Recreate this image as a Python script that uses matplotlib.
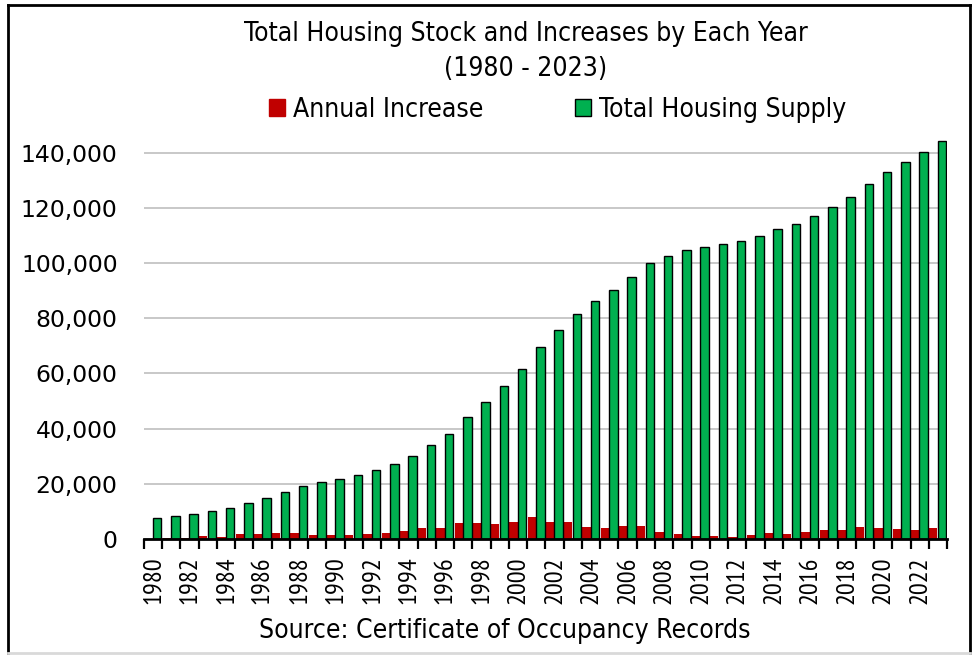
import matplotlib.pyplot as plt
from matplotlib.lines import Line2D
from matplotlib.patches import Patch
from matplotlib.font_manager import FontProperties
import numpy as np

years = list(range(1980, 2024))

# Annual increase (units added each year)
annual_increase = [
    0, 360, 360, 850, 730, 1820, 1570, 2060, 1940, 1210,
    1210, 1330, 1570, 2060, 2660, 3750, 3870, 5570, 5570, 5200,
    5930, 7750, 5930, 5930, 4240, 3750, 4600, 4720, 2300, 1820,
    970, 850, 600, 1450, 2180, 1700, 2540, 3030, 3030, 4360,
    4000, 3390, 3270, 3870,
]

# Total housing supply (cumulative stock)
total_supply = [
    7630, 8240, 8960, 10060, 11040, 12960, 14780, 16960, 19030, 20480,
    21790, 23250, 25060, 27240, 30040, 34140, 38140, 44090, 49760, 55350,
    61530, 69630, 75690, 81720, 86220, 90220, 95160, 100130, 102680, 104860,
    106050, 107140, 108230, 109940, 112370, 114410, 117310, 120580, 124100, 128830,
    133080, 136820, 140340, 144550,
]

series_names = ["Annual Increase", "Total Housing Supply"]
red = "#C00000"
green = "#00B050"

cond = FontProperties(family="DejaVu Sans", stretch="condensed", size=19)
narrow = ["PT Sans Narrow", "DejaVu Sans"]

fig = plt.figure(figsize=(9.74, 6.55), dpi=100)
ax = fig.add_axes([0.1478, 0.1776, 0.8245, 0.6095])

x = np.arange(len(years))
ax.bar(x - 0.255, annual_increase, width=0.45, color=red, zorder=3)
ax.bar(x + 0.22, total_supply, width=0.46, color=green,
       edgecolor="black", linewidth=1, zorder=3)

ax.set_xlim(-0.5, len(years) - 0.5)
ax.set_ylim(0, 145000)
ax.set_yticks(range(0, 140001, 20000))
ax.yaxis.set_major_formatter(plt.FuncFormatter(lambda v, p: f"{int(v):,}"))
ax.tick_params(axis="y", length=0, pad=19, labelsize=16.9)
for lab in ax.get_yticklabels():
    lab.set_family("DejaVu Sans")
ax.grid(axis="y", color="#BFBFBF", linewidth=1.2, zorder=0)

# year labels every other year, tick marks between categories
ax.set_xticks(x[::2])
ax.set_xticklabels([str(y) for y in years[::2]], rotation=90,
                   family=narrow, fontsize=19)
ax.set_xticks(np.arange(-0.5, len(years), 1.0), minor=True)
ax.tick_params(axis="x", which="major", length=0, pad=12.5)
ax.tick_params(axis="x", which="minor", length=7.5, width=1.6, color="black")

for s in ["top", "right", "left"]:
    ax.spines[s].set_visible(False)
ax.spines["bottom"].set_linewidth(2)
ax.spines["bottom"].set_zorder(4)

fig.text(0.54, 0.948, "Total Housing Stock and Increases by Each Year",
         ha="center", va="center", fontproperties=cond)
fig.text(0.54, 0.894, "(1980 - 2023)",
         ha="center", va="center", fontproperties=cond)

handles = [Patch(facecolor=red, edgecolor=red),
           Patch(facecolor=green, edgecolor="black", linewidth=1)]
fig.legend(handles, series_names, loc="center", bbox_to_anchor=(0.5725, 0.832),
           ncol=2, frameon=False, handlelength=0.6, handleheight=0.6,
           handletextpad=0.3, columnspacing=3.5, prop=cond)

fig.text(0.518, 0.036, "Source: Certificate of Occupancy Records",
         ha="center", va="center", fontproperties=cond)

# outer frame
fig.add_artist(Line2D([8/974, 8/974], [2/655, 650/655], color="black", lw=2))
fig.add_artist(Line2D([970/974, 970/974], [2/655, 650/655], color="black", lw=2))
fig.add_artist(Line2D([8/974, 970/974], [650/655, 650/655], color="black", lw=2))
fig.add_artist(Line2D([8/974, 970/974], [2/655, 2/655], color="#D9D9D9", lw=2))

fig.savefig("out.png", dpi=100)
